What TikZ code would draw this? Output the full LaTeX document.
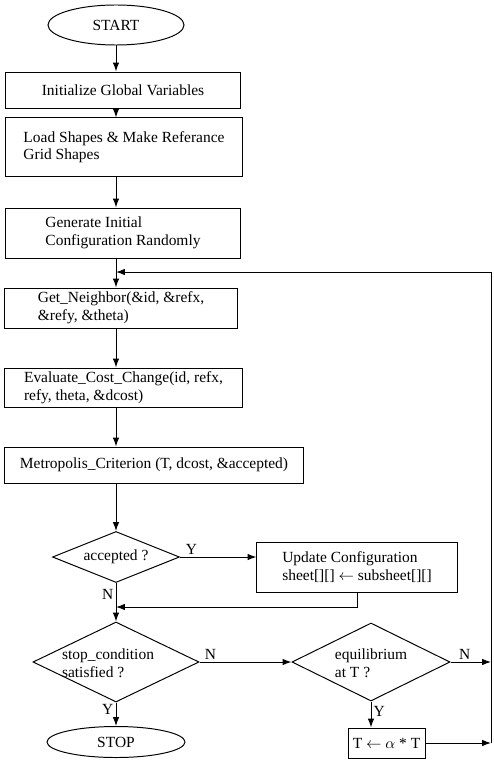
\documentclass[tikz,border=0pt]{standalone}
\usepackage{fontspec}
\setmainfont{Liberation Serif}
\usepackage{tikz}
\usetikzlibrary{shapes.geometric,arrows.meta,calc}
\tikzstyle{Pbox}=[shape=rectangle,draw=black,line width=0.7pt,align=left,inner sep=0pt,font=\fontsize{11}{12.5}\selectfont]
\tikzstyle{Tstate}=[shape=ellipse,draw=black,line width=0.7pt,inner sep=0pt,font=\fontsize{11}{12.5}\selectfont]
\tikzstyle{Dstate}=[shape=diamond,draw=black,line width=0.7pt,inner sep=0pt]
\tikzstyle{Dtext}=[align=left,inner sep=0pt,font=\fontsize{11}{12.5}\selectfont]
\tikzstyle{ans}=[inner sep=1.5pt,font=\fontsize{11}{12.5}\selectfont]
\tikzstyle{flow}=[-{Latex[length=2.2mm,width=1.6mm]},line width=0.7pt]
\tikzstyle{plain}=[line width=0.7pt]

\begin{document}
\begin{tikzpicture}[x=0.025cm,y=-0.025cm]
\useasboundingbox (0,0) rectangle (493,768);

\node[Tstate,minimum width=3.4cm,minimum height=1.0cm] (START) at (116,25) {START};

\node[Pbox,minimum width=5.85cm,minimum height=0.9cm] (init) at (123,90) {Initialize Global Variables};
\node[Pbox,minimum width=5.9cm,minimum height=1.45cm] (load) at (124,147) {Load Shapes \& Make Referance\\Grid Shapes};
\node[Pbox,minimum width=5.85cm,minimum height=1.25cm] (gen) at (123,233) {Generate Initial\\Configuration Randomly};
\node[Pbox,minimum width=5.8cm,minimum height=1.0cm] (neigh) at (121,308) {Get\_Neighbor(\&id, \&refx,\\\&refy, \&theta)};
\node[Pbox,minimum width=5.925cm,minimum height=0.975cm] (cost) at (123.5,387.5) {Evaluate\_Cost\_Change(id, refx,\\refy, theta, \&dcost)};
\node[Pbox,minimum width=7.45cm,minimum height=0.9cm] (metro) at (154,465) {Metropolis\_Criterion (T, dcost, \&accepted)};

\node[Dstate,minimum width=3.175cm,minimum height=1.275cm] (acc) at (116,557) {};
\node[Dtext] (acctext) at (acc) {accepted ?};
\node[Pbox,minimum width=5.0cm,minimum height=1.25cm] (update) at (357,567) {Update Configuration\\sheet[][] $\leftarrow$ subsheet[][]};

\node[Dstate,minimum width=4.15cm,minimum height=2.0cm] (stop) at (116,662) {};
\node[Dtext] (stoptext) at (108,663) {stop\_condition\\satisfied ?};
\node[Dstate,minimum width=3.95cm,minimum height=1.95cm] (equil) at (371,662) {};
\node[Dtext] (equiltext) at (371,663) {equilibrium\\at T ?};

\node[Pbox,minimum width=1.925cm,minimum height=0.75cm] (cool) at (386.5,743) {T $\leftarrow$ $\alpha$ * T};
\node[Tstate,minimum width=3.45cm,minimum height=0.775cm] (STOP) at (116,742) {STOP};

\coordinate (join1) at (116,272);
\coordinate (join2) at (116,607);
\coordinate (loopTop) at (491,272);
\coordinate (loopBot) at (491,743);

\path
(START) edge [flow] (START |- init.north)
(init.south -| START) edge [flow] (load.north -| START)
(load.south -| START) edge [flow] (gen.north -| START)
(gen.south -| START) edge [flow] (neigh.north -| START)
(neigh.south -| START) edge [flow] (cost.north -| START)
(cost.south -| START) edge [flow] (metro.north -| START)
(metro.south -| START) edge [flow] (acc)

(acc.east) edge [flow] node[ans,above,pos=0.15] (accY) {Y} (acc.east -| update.west)
(acc) edge [flow] node[ans,left,pos=0.3] (accN) {N} (stop)
(stop) edge [flow] node[ans,left,pos=0.3] (stopY) {Y} (STOP)
(stop.east) edge [flow] node[ans,above,pos=0.12] (stopN) {N} (equil.west)
(equil.south) edge [flow] node[ans,right,pos=0.4] (equilY) {Y} (equil.south |- cool.north)
(equil.east) edge [flow] node[ans,above,pos=0.35] (equilN) {N} (equil.east -| loopBot)
(cool.east) edge [flow] (loopBot);

\draw[flow] (update.south) |- (join2);
\draw[plain] (loopBot) -- (loopTop);
\draw[flow] (loopTop) -- (join1);

\end{tikzpicture}
\end{document}
